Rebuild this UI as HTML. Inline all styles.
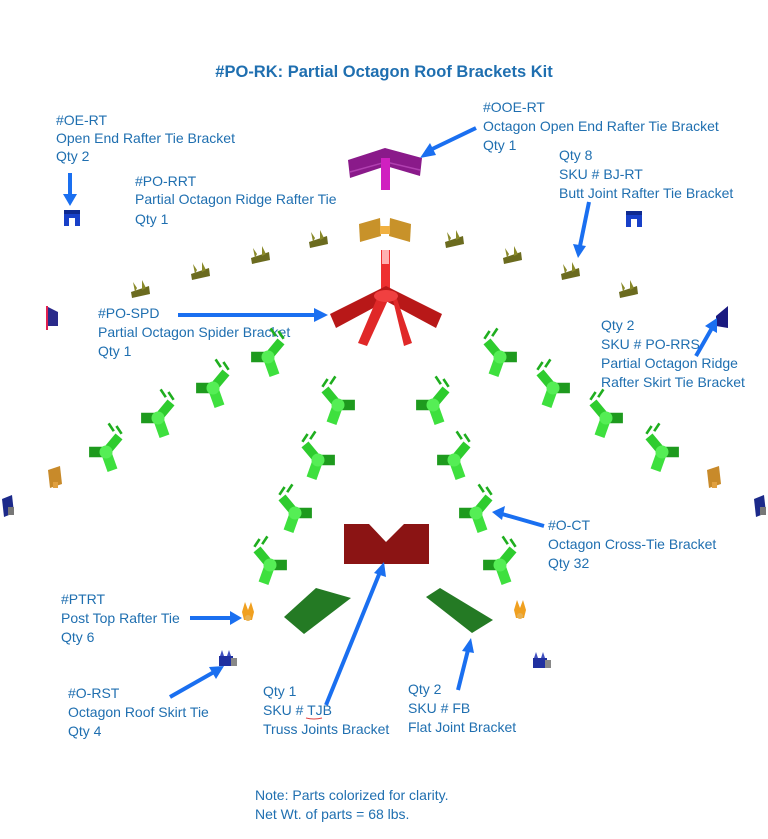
<!DOCTYPE html>
<html><head><meta charset="utf-8"><style>
html,body{margin:0;padding:0;background:#fff}
svg{display:block}
text{font-family:"Liberation Sans Narrow","Liberation Sans",sans-serif;fill:#1f6fb0;font-size:14px}
</style></head><body>
<svg width="768" height="839" viewBox="0 0 768 839" xmlns="http://www.w3.org/2000/svg">
<defs>
<g id="y0">
<path d="M0 0 L-10 -12" stroke="#2ecc2e" stroke-width="7" stroke-linecap="butt"/>
<path d="M-12 -14 l4 -6 M-6 -16 l4 -6" stroke="#1fae1f" stroke-width="2"/>
<path d="M0 0 L13 0" stroke="#1e9a1e" stroke-width="8"/>
<path d="M0 0 L-5 14" stroke="#3ee03e" stroke-width="8"/>
<circle cx="0" cy="0" r="5" fill="#55ee55"/>
</g>
<g id="yr0">
<path d="M0 0 L10 -12" stroke="#2ecc2e" stroke-width="7"/>
<path d="M12 -14 l-4 -6 M6 -16 l-4 -6" stroke="#1fae1f" stroke-width="2"/>
<path d="M0 0 L-13 0" stroke="#1e9a1e" stroke-width="8"/>
<path d="M0 0 L5 14" stroke="#3ee03e" stroke-width="8"/>
<circle cx="0" cy="0" r="5" fill="#55ee55"/>
</g>
<g id="y"><use href="#y0" transform="scale(1.3)"/></g>
<g id="yr"><use href="#yr0" transform="scale(1.3)"/></g>
<g id="ol">
<path d="M-9 4 L9 -2 L10 6 L-8 10 Z" fill="#6b6b1f"/>
<path d="M-5 4 l-2 -10 l4 6 Z M2 2 l0 -10 l4 8 Z" fill="#8a8a2a"/>
</g>
<g id="bl"><rect x="-8" y="-8" width="16" height="16" fill="#1840c8"/><rect x="-3" y="0" width="6" height="8" fill="#fff"/><rect x="-8" y="-8" width="16" height="4" fill="#0f2a90"/></g>
<g id="or"><path d="M-7 -8 L5 -12 L7 6 L-5 10 Z" fill="#c88a2a"/><rect x="-2" y="4" width="5" height="6" fill="#e0a040"/></g>
<g id="nv"><path d="M-6 -8 L4 -12 L6 6 L-4 10 Z" fill="#1c2a8a"/><rect x="0" y="0" width="6" height="8" fill="#777"/></g>
<g id="pt"><path d="M-6 0 L-3 -10 L0 -2 L3 -10 L6 0 L4 8 L-4 8 Z" fill="#f0a020"/><circle cx="0" cy="6" r="3" fill="#e8b050"/></g>
<g id="sk"><rect x="-7" y="-4" width="14" height="10" fill="#2030a0"/><path d="M-6 -4 l2 -6 l2 6 M1 -4 l2 -6 l2 6" fill="#4050c0"/><rect x="5" y="-2" width="6" height="8" fill="#888"/></g>
</defs>

<text x="384" y="77" text-anchor="middle" style="font-size:16.5px;font-weight:bold;font-family:'Liberation Sans',sans-serif">#PO-RK: Partial Octagon Roof Brackets Kit</text>

<g>
<text x="56" y="125">#OE-RT</text>
<text x="56" y="143">Open End Rafter Tie Bracket</text>
<text x="56" y="161">Qty 2</text>
<text x="483" y="112">#OOE-RT</text>
<text x="483" y="131">Octagon Open End Rafter Tie Bracket</text>
<text x="483" y="150">Qty 1</text>
<text x="135" y="186">#PO-RRT</text>
<text x="135" y="204">Partial Octagon Ridge Rafter Tie</text>
<text x="135" y="224">Qty 1</text>
<text x="559" y="160">Qty 8</text>
<text x="559" y="179">SKU # BJ-RT</text>
<text x="559" y="198">Butt Joint Rafter Tie Bracket</text>
<text x="98" y="318">#PO-SPD</text>
<text x="98" y="337">Partial Octagon Spider Bracket</text>
<text x="98" y="356">Qty 1</text>
<text x="601" y="330">Qty 2</text>
<text x="601" y="349">SKU # PO-RRS</text>
<text x="601" y="368">Partial Octagon Ridge</text>
<text x="601" y="387">Rafter Skirt Tie Bracket</text>
<text x="548" y="530">#O-CT</text>
<text x="548" y="549">Octagon Cross-Tie Bracket</text>
<text x="548" y="568">Qty 32</text>
<text x="61" y="604">#PTRT</text>
<text x="61" y="623">Post Top Rafter Tie</text>
<text x="61" y="642">Qty 6</text>
<text x="68" y="698">#O-RST</text>
<text x="68" y="717">Octagon Roof Skirt Tie</text>
<text x="68" y="736">Qty 4</text>
<text x="263" y="696">Qty 1</text>
<text x="263" y="715">SKU # TJB</text>
<text x="263" y="734">Truss Joints Bracket</text>
<text x="408" y="694">Qty 2</text>
<text x="408" y="713">SKU # FB</text>
<text x="408" y="732">Flat Joint Bracket</text>
<text x="255" y="800">Note: Parts colorized for clarity.</text>
<text x="255" y="819">Net Wt. of parts = 68 lbs.</text>
</g>
<path d="M306 718 q8 2 16 0" stroke="#e04040" stroke-width="1" fill="none"/>

<!-- purple OOE -->
<path d="M348 160 L385 148 L422 158 L420 176 L386 166 L350 178 Z" fill="#8a1a8a"/>
<path d="M350 172 L386 162 L420 170" stroke="#b040b0" stroke-width="1.5" fill="none"/>
<rect x="381" y="158" width="9" height="32" fill="#d020c0"/>
<!-- orange PO-RRT -->
<path d="M359 224 L380 218 L381 236 L360 242 Z" fill="#c8922a"/>
<path d="M390 218 L411 224 L410 242 L389 236 Z" fill="#c8922a"/>
<rect x="380" y="226" width="10" height="8" fill="#f0b040"/>
<!-- red spider -->
<rect x="381" y="250" width="9" height="42" fill="#ee3030"/>
<rect x="382" y="250" width="7" height="14" fill="#ffb0b0"/>
<path d="M386 286 L330 314 L336 328 L388 300 Z" fill="#b81818"/>
<path d="M386 286 L442 314 L436 328 L384 300 Z" fill="#b81818"/>
<path d="M378 296 L358 343 L367 346 L388 300 Z" fill="#e02828"/>
<path d="M392 296 L404 346 L412 343 L396 296 Z" fill="#e02828"/>
<ellipse cx="386" cy="296" rx="12" ry="6" fill="#f04040"/>
<!-- TJB red -->
<path d="M344 524 L369 524 L386 542 L404 524 L429 524 L429 564 L344 564 Z" fill="#8b1414"/>
<!-- flat brackets -->
<path d="M284 617 L316 588 L351 598 L304 634 Z" fill="#247a24"/>
<path d="M426 597 L440 588 L493 620 L472 633 Z" fill="#247a24"/>

<!-- greens -->
<use href="#yr" x="268" y="357"/>
<use href="#yr" x="213" y="388"/>
<use href="#yr" x="158" y="418"/>
<use href="#yr" x="106" y="452"/>
<use href="#y" x="338" y="405"/>
<use href="#y" x="318" y="460"/>
<use href="#y" x="295" y="513"/>
<use href="#y" x="270" y="565"/>
<use href="#yr" x="433" y="405"/>
<use href="#yr" x="454" y="460"/>
<use href="#yr" x="476" y="513"/>
<use href="#yr" x="500" y="565"/>
<use href="#y" x="500" y="357"/>
<use href="#y" x="553" y="388"/>
<use href="#y" x="606" y="418"/>
<use href="#y" x="662" y="452"/>

<!-- olive -->
<use href="#ol" x="140" y="288"/>
<use href="#ol" x="200" y="270"/>
<use href="#ol" x="260" y="254"/>
<use href="#ol" x="318" y="238"/>
<use href="#ol" x="454" y="238"/>
<use href="#ol" x="512" y="254"/>
<use href="#ol" x="570" y="270"/>
<use href="#ol" x="628" y="288"/>

<use href="#bl" x="72" y="218"/>
<use href="#bl" x="634" y="219"/>
<path d="M46 306 L58 312 L58 326 L46 326 Z" fill="#2a2a8a"/><rect x="46" y="306" width="2" height="24" fill="#e02050"/>
<path d="M716 316 L728 306 L728 328 L716 326 Z" fill="#1a1a80"/>
<use href="#or" x="55" y="478"/>
<use href="#or" x="714" y="478"/>
<use href="#nv" x="8" y="507"/>
<use href="#nv" x="760" y="507"/>
<use href="#pt" x="248" y="612"/>
<use href="#pt" x="520" y="610"/>
<use href="#sk" x="226" y="660"/>
<use href="#sk" x="540" y="662"/>

<!-- arrows -->
<g stroke="#1a6ff0" stroke-width="4" fill="#1a6ff0">
<line x1="70" y1="173" x2="70" y2="196"/><path d="M63 194 L77 194 L70 206 Z" stroke="none"/>
<line x1="476" y1="128" x2="426" y2="152"/><path d="M420 158 L430 143 L436 155 Z" stroke="none"/>
<line x1="589" y1="202" x2="580" y2="246"/><path d="M578 258 L573 244 L586 246 Z" stroke="none"/>
<line x1="178" y1="315" x2="316" y2="315"/><path d="M328 315 L314 308 L314 322 Z" stroke="none"/>
<line x1="696" y1="356" x2="712" y2="328"/><path d="M717 318 L705 326 L717 333 Z" stroke="none"/>
<line x1="544" y1="526" x2="502" y2="514"/><path d="M492 512 L505 506 L502 520 Z" stroke="none"/>
<line x1="190" y1="618" x2="232" y2="618"/><path d="M242 618 L230 611 L230 625 Z" stroke="none"/>
<line x1="170" y1="697" x2="214" y2="672"/><path d="M224 666 L209 667 L216 679 Z" stroke="none"/>
<line x1="326" y1="705" x2="380" y2="572"/><path d="M384 562 L374 573 L386 577 Z" stroke="none"/>
<line x1="458" y1="690" x2="468" y2="650"/><path d="M471 638 L462 651 L474 653 Z" stroke="none"/>
</g>
</svg>
</body></html>
